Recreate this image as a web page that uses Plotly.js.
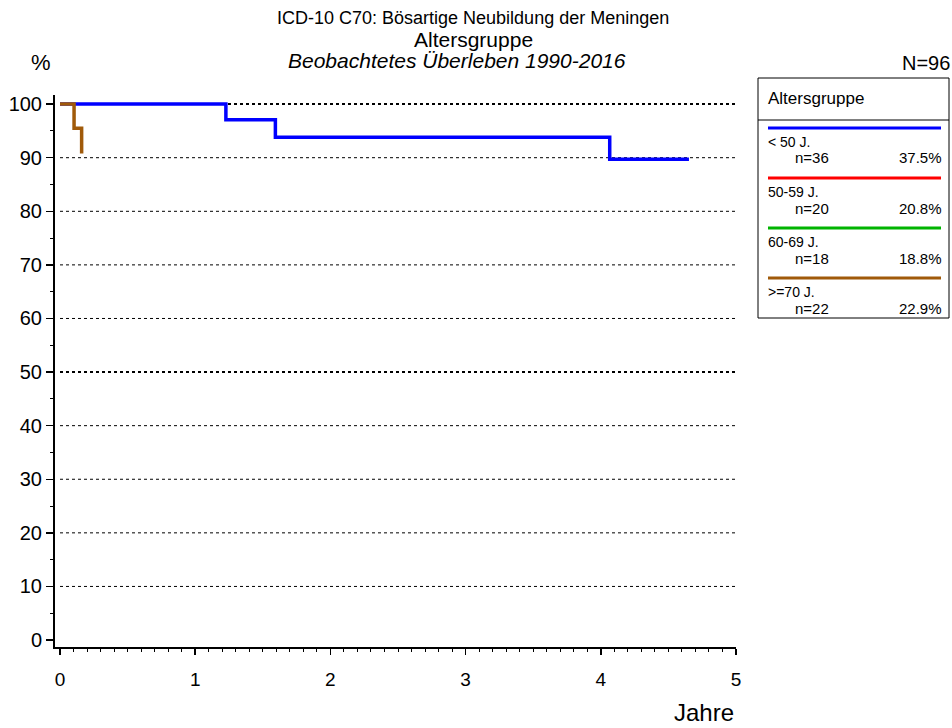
<!DOCTYPE html>
<html>
<head>
<meta charset="utf-8">
<script src="https://cdn.plot.ly/plotly-3.0.1.min.js"></script>
<style>html,body{margin:0;padding:0;background:#fff}#chart{width:952px;height:728px}</style>
</head>
<body>
<div id="chart"></div>
<script>
// ---- data ----
var groupLabels = ['< 50 J.', '50-59 J.', '60-69 J.', '>=70 J.'];
var groupN = [36, 20, 18, 22];
var groupPct = ['37.5%', '20.8%', '18.8%', '22.9%'];
var groupColors = ['#0000ff', '#ff0000', '#00b400', '#a05a0a'];

var under50Years = [0, 1.227, 1.593, 4.066, 4.652];
var under50Surv  = [100, 97.1, 93.8, 89.7, 89.7];
var over70Years  = [0, 0.104, 0.160];
var over70Surv   = [100, 95.5, 90.8];

var yTicks = [0, 10, 20, 30, 40, 50, 60, 70, 80, 90, 100];
var xTicks = [0, 1, 2, 3, 4, 5];
var gridLevels = [10, 20, 30, 40, 50, 60, 70, 80, 90, 100];

// ---- layout helpers (pixel -> paper) ----
var L = 55, R = 736, T = 95, B = 647;
function px(x) { return (x - L) / (R - L); }
function py(y) { return (B - y) / (B - T); }

var FONT = 'Liberation Sans, Arial, sans-serif';

var traces = [
  {x: under50Years, y: under50Surv, mode: 'lines', line: {shape: 'hv', color: groupColors[0], width: 3.5}, hoverinfo: 'skip', showlegend: false},
  {x: over70Years, y: over70Surv, mode: 'lines', line: {shape: 'hv', color: groupColors[3], width: 3.5}, hoverinfo: 'skip', showlegend: false}
];

var shapes = [];
gridLevels.forEach(function (g) {
  shapes.push({type: 'line', xref: 'x', yref: 'y', x0: 0, x1: 5, y0: g, y1: g, layer: 'below',
    line: {color: '#000', width: (g === 50 || g === 100) ? 2 : 1, dash: 'dot'}});
});

// legend box
shapes.push({type: 'rect', xref: 'paper', yref: 'paper', x0: px(758), x1: px(949), y0: py(78), y1: py(318), line: {color: '#000', width: 1}});
shapes.push({type: 'line', xref: 'paper', yref: 'paper', x0: px(758), x1: px(949), y0: py(120), y1: py(120), line: {color: '#000', width: 1}});

var annotations = [];
function txt(text, x, y, size, xanchor, extra) {
  var a = {text: text, xref: 'paper', yref: 'paper', x: px(x), y: py(y), xanchor: xanchor || 'center', yanchor: 'middle',
    showarrow: false, borderpad: 0, font: {family: FONT, size: size, color: '#000'}};
  if (extra) for (var k in extra) a[k] = extra[k];
  annotations.push(a);
}

txt('ICD-10 C70: Bösartige Neubildung der Meningen', 473, 18, 18);
txt('Altersgruppe', 473, 39, 21);
txt('<i>Beobachtetes Überleben 1990-2016</i>', 457, 60, 21);
txt('%', 41, 63, 22);
txt('N=96', 951, 63, 20, 'right');
txt('Jahre', 704, 712, 24);
txt('Altersgruppe', 767, 98, 17, 'left');

for (var i = 0; i < groupLabels.length; i++) {
  var base = 128 + i * 50;
  shapes.push({type: 'line', xref: 'paper', yref: 'paper', x0: px(768), x1: px(941), y0: py(base), y1: py(base),
    line: {color: groupColors[i], width: 3}});
  txt(groupLabels[i], 767, base + 14, 14, 'left');
  txt('n=' + groupN[i], 794, base + 30, 15, 'left');
  txt(groupPct[i], 943, base + 30, 15, 'right');
}

var layout = {
  width: 952, height: 728,
  margin: {l: L, r: 952 - R, t: T, b: 728 - B, pad: 0},
  paper_bgcolor: '#fff', plot_bgcolor: '#fff',
  showlegend: false,
  font: {family: FONT, color: '#000'},
  xaxis: {
    range: [-0.037, 5], showgrid: false, zeroline: false,
    showline: true, linecolor: '#000', linewidth: 2,
    tickmode: 'array', tickvals: xTicks, ticktext: xTicks.map(String),
    ticks: 'outside', ticklen: 6, tickwidth: 1.5, tickcolor: '#000',
    ticklabelstandoff: 8,
    tickfont: {family: FONT, size: 19, color: '#000'},
    minor: {dtick: 0.1, tick0: 0, ticks: 'outside', ticklen: 3, tickwidth: 1, tickcolor: '#000', showgrid: false},
    fixedrange: true
  },
  yaxis: {
    range: [-1.3, 101.7], showgrid: false, zeroline: false,
    showline: true, linecolor: '#000', linewidth: 2,
    tickmode: 'array', tickvals: yTicks, ticktext: yTicks.map(String),
    ticks: 'outside', ticklen: 7, tickwidth: 1.5, tickcolor: '#000',
    tickfont: {family: FONT, size: 20, color: '#000'},
    minor: {dtick: 5, tick0: 0, ticks: 'outside', ticklen: 3, tickwidth: 1, tickcolor: '#000', showgrid: false},
    fixedrange: true
  },
  shapes: shapes,
  annotations: annotations
};

Plotly.newPlot('chart', traces, layout, {displayModeBar: false, staticPlot: true});
</script>
</body>
</html>
